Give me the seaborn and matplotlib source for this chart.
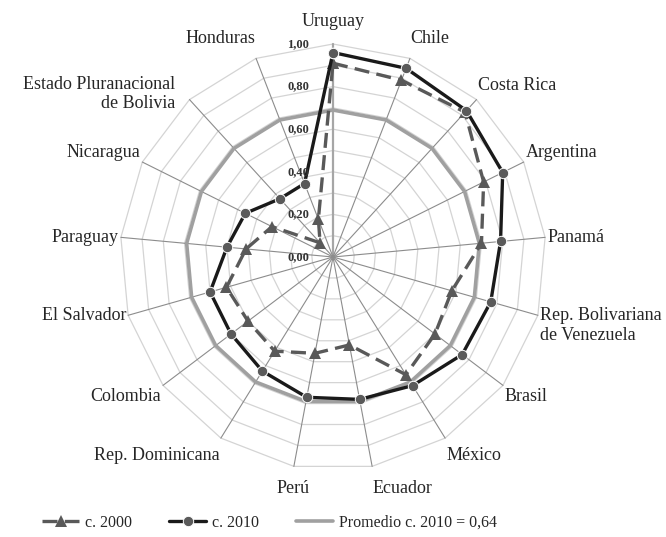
import numpy as np
import pandas as pd
import matplotlib
matplotlib.use("Agg")
import matplotlib.pyplot as plt
import seaborn as sns
from matplotlib.lines import Line2D

# ---------------- data ----------------
categories = ["Uruguay", "Chile", "Costa Rica", "Argentina", "Panamá",
              "Rep. Bolivariana\nde Venezuela", "Brasil", "México", "Ecuador",
              "Perú", "Rep. Dominicana", "Colombia", "El Salvador", "Paraguay",
              "Nicaragua", "Estado Pluranacional\nde Bolivia", "Honduras"]
c2000 = [0.91, 0.89, 0.92, 0.79, 0.70, 0.58, 0.60, 0.65, 0.42, 0.46,
         0.52, 0.50, 0.52, 0.41, 0.32, 0.09, 0.19]
c2010 = [0.96, 0.95, 0.93, 0.89, 0.79, 0.77, 0.76, 0.71, 0.68, 0.67,
         0.63, 0.60, 0.60, 0.50, 0.46, 0.37, 0.37]
promedio = [0.69, 0.69, 0.69, 0.69, 0.69, 0.69, 0.69, 0.69, 0.69, 0.69,
            0.69, 0.69, 0.69, 0.69, 0.69, 0.69, 0.69]
tick_values = [0.0, 0.2, 0.4, 0.6, 0.8, 1.0]
tick_labels = ["0,00", "0,20", "0,40", "0,60", "0,80", "1,00"]
series_labels = ["c. 2000", "c. 2010", "Promedio c. 2010 = 0,64"]

# ---------------- style ----------------
sns.set_theme(style="white")
plt.rcParams["font.family"] = ["Liberation Serif", "DejaVu Serif"]
SERIF = ["Liberation Serif", "DejaVu Serif"]

W, H = 666, 537
CX, CY, RPX = 333, 257, 213   # centre and unit radius in pixels
fig = plt.figure(figsize=(W / 100, H / 100), dpi=100)
ax = fig.add_axes([0, 0, 1, 1])
ax.set_xlim(-CX / RPX, (W - CX) / RPX)
ax.set_ylim(-(H - CY) / RPX, CY / RPX)
ax.axis("off")

n = len(categories)
theta = 2 * np.pi * np.arange(n) / n
sin_t, cos_t = np.sin(theta), np.cos(theta)

def closed_xy(vals):
    v = np.asarray(vals, dtype=float)
    x = v * sin_t
    y = v * cos_t
    return np.append(x, x[0]), np.append(y, y[0])

# grid rings (polygons every 0.1)
for k in range(1, 11):
    r = k / 10
    gx, gy = closed_xy([r] * n)
    ax.plot(gx, gy, color="#d4d4d4", lw=0.9, zorder=1)
# spokes
for i in range(n):
    if i == 0:
        ax.plot([0, sin_t[i]], [0, cos_t[i]], color="#a6a6a6", lw=1.6, zorder=2)
    else:
        ax.plot([0, sin_t[i]], [0, cos_t[i]], color="#8c8c8c", lw=0.8, zorder=2)

# ---------------- series ----------------
px, py = closed_xy(promedio)
sns.lineplot(x=px, y=py, sort=False, estimator=None, ax=ax, color="#a0a0a0",
             lw=2.6, zorder=3, legend=False)

x0, y0 = closed_xy(c2000)
sns.lineplot(x=x0, y=y0, sort=False, estimator=None, ax=ax, color="#595959",
             lw=2.4, linestyle=(0, (4.5, 2.2)), marker="^", markersize=8,
             markeredgewidth=0, zorder=4, legend=False)

x1, y1 = closed_xy(c2010)
sns.lineplot(x=x1, y=y1, sort=False, estimator=None, ax=ax, color="#1a1a1a",
             lw=2.4, marker="o", markersize=7.5, markerfacecolor="#5a5a5a",
             markeredgecolor="white", markeredgewidth=0.7, zorder=5, legend=False)

# ---------------- tick labels ----------------
for v, lab in zip(tick_values, tick_labels):
    ax.annotate(lab, xy=(0, v), xytext=(-17, 0), textcoords="offset points",
                ha="right", va="center", fontsize=9, fontweight="bold",
                color="#333333", family=SERIF, zorder=6)

# ---------------- category labels ----------------
for i, lab in enumerate(categories):
    s, c = sin_t[i], cos_t[i]
    ha = "left" if s > 0.15 else ("right" if s < -0.2 else "center")
    dx, dy = 1.5 * s, 10 * c ** 3
    if "\n" in lab:
        va = "center"
        if c < 0:
            dy -= 7
        else:
            dx -= 9
    else:
        va = "bottom" if c > 0.3 else ("top" if c < -0.3 else "center")
    ax.annotate(lab, xy=(s, c), xytext=(dx, dy),
                textcoords="offset points", ha=ha, va=va, fontsize=13,
                color="#262626", family=SERIF,
                multialignment=ha if ha != "center" else "center")

# ---------------- legend ----------------
handles = [
    Line2D([], [], color="#595959", lw=2.4, linestyle=(0, (4.5, 2.2)), marker="^",
           markersize=8, markeredgewidth=0),
    Line2D([], [], color="#1a1a1a", lw=2.4, marker="o", markersize=7.5,
           markerfacecolor="#5a5a5a", markeredgecolor="white", markeredgewidth=0.7),
    Line2D([], [], color="#a0a0a0", lw=2.6),
]
fig.legend(handles, series_labels, loc="center", bbox_to_anchor=(0.405, 0.026),
           ncol=3, frameon=False, handlelength=2.3,
           handletextpad=0.4, columnspacing=2.3, prop={"family": SERIF, "size": 11.5})

fig.savefig("out.png", dpi=100)
